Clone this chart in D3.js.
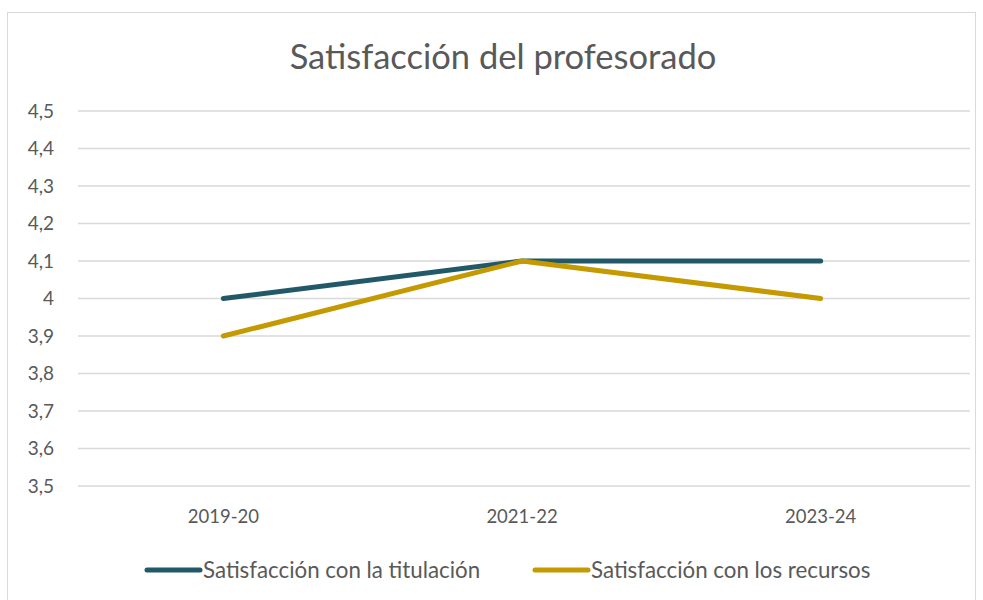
<!DOCTYPE html>
<html lang="es">
<head>
<meta charset="UTF-8">
<title>Satisfacción del profesorado</title>
<style>
    body { margin: 0; background: #fff; }
    svg { display: block; }
    text { font-family: Lato, "Open Sans", sans-serif; fill: #595959; }
</style>
</head>
<body>
<script src="https://d3js.org/d3.v7.min.js"></script>
<script>
    const width = 983;
    const height = 600;

    const categories = ["2019-20", "2021-22", "2023-24"];
    const titulacion = [4.0, 4.1, 4.1];
    const recursos = [3.9, 4.1, 4.0];
    const yTicks = [3.5, 3.6, 3.7, 3.8, 3.9, 4.0, 4.1, 4.2, 4.3, 4.4, 4.5];

    const series = [
        { name: "Satisfacción con la titulación", values: titulacion, color: "#215968" },
        { name: "Satisfacción con los recursos", values: recursos, color: "#C49A00" }
    ];

    const margin = { top: 111, right: 13, bottom: 114, left: 74 };

    const svg = d3.select("body").append("svg")
        .attr("width", width)
        .attr("height", height);

    // chart frame
    svg.append("rect")
        .attr("x", 7.5).attr("y", 12.5)
        .attr("width", 968).attr("height", 600)
        .attr("fill", "#fff")
        .attr("stroke", "#d9d9d9");

    const x = d3.scaleBand()
        .domain(categories)
        .range([margin.left, width - margin.right]);

    const y = d3.scaleLinear()
        .domain([3.5, 4.5])
        .range([height - margin.bottom, margin.top]);

    const fmt = d => d3.format(".1f")(d).replace(".0", "").replace(".", ",");

    // gridlines
    svg.append("g")
        .selectAll("line")
        .data(yTicks)
        .join("line")
        .attr("x1", margin.left + 4)
        .attr("x2", width - margin.right)
        .attr("y1", d => y(d))
        .attr("y2", d => y(d))
        .attr("stroke", "#d9d9d9")
        .attr("stroke-width", 1.5);

    // y axis
    const yAxis = svg.append("g")
        .attr("transform", `translate(${margin.left},0)`)
        .call(d3.axisLeft(y).tickValues(yTicks).tickFormat(fmt).tickSize(0).tickPadding(20));
    yAxis.select(".domain").remove();
    yAxis.selectAll("text")
        .style("font-size", "19px")
        .attr("fill", "#595959");

    // x axis
    const xAxis = svg.append("g")
        .attr("transform", `translate(0,${height - margin.bottom})`)
        .call(d3.axisBottom(x).tickSize(0).tickPadding(24));
    xAxis.select(".domain").remove();
    xAxis.selectAll("text")
        .style("font-size", "18.5px")
        .attr("fill", "#595959");

    // lines
    const line = d3.line()
        .x((d, i) => x(categories[i]) + x.bandwidth() / 2)
        .y(d => y(d));

    svg.append("g")
        .selectAll("path")
        .data(series)
        .join("path")
        .attr("d", d => line(d.values))
        .attr("fill", "none")
        .attr("stroke", d => d.color)
        .attr("stroke-width", 5)
        .attr("stroke-linecap", "round")
        .attr("stroke-linejoin", "round");

    // title
    svg.append("text")
        .attr("x", 503)
        .attr("y", 69)
        .attr("text-anchor", "middle")
        .style("font-size", "34.5px")
        .text("Satisfacción del profesorado");

    // legend
    const legendX = [147, 535];
    const legend = svg.append("g")
        .selectAll("g")
        .data(series)
        .join("g")
        .attr("transform", (d, i) => `translate(${legendX[i]},570)`);

    legend.append("line")
        .attr("x1", 0).attr("x2", 53)
        .attr("stroke", d => d.color)
        .attr("stroke-width", 5)
        .attr("stroke-linecap", "round");

    legend.append("text")
        .attr("x", 56)
        .attr("dy", "0.35em")
        .style("font-size", "22.3px")
        .text(d => d.name);
</script>
</body>
</html>
